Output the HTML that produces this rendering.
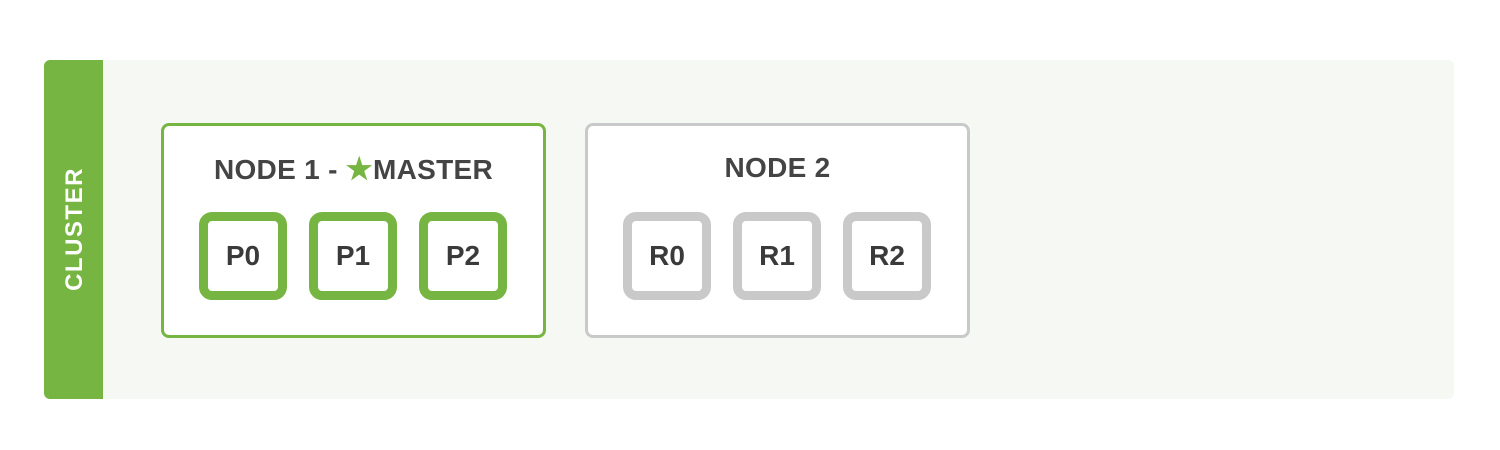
<!DOCTYPE html>
<html><head><meta charset="utf-8"><style>
*{margin:0;padding:0;box-sizing:border-box}
body{width:1500px;height:450px;background:#fff;position:relative;overflow:hidden;font-family:"Liberation Sans",sans-serif}
.bg{position:absolute;left:44px;top:60px;width:1410px;height:339px;background:#f6f8f4;border-radius:6px}
.bar{position:absolute;left:44px;top:60px;width:59px;height:339px;background:#77b543;border-radius:6px 0 0 6px}
.ct{position:absolute;left:75px;top:229px;transform:translate(-50%,-50%) rotate(-90deg);color:#fff;font-weight:bold;font-size:24px;letter-spacing:1.5px;white-space:nowrap}
.node{position:absolute;top:123px;width:385px;height:215px;background:#fff;border:3px solid #77b543;border-radius:8px}
.n2{border-color:#c9c9c9}
.title{position:absolute;top:152px;width:385px;text-align:center;font-weight:bold;font-size:28px;letter-spacing:0.3px;color:#444;white-space:nowrap}
.sh{position:absolute;top:212px;width:88px;height:88px;border:9px solid #77b543;border-radius:13px;background:#fff;display:flex;align-items:center;justify-content:center;font-weight:bold;font-size:28px;color:#3a3a3a}
.g{border-color:#c9c9c9}
.star{color:#77b543;font-size:30px}
</style></head><body>
<div class="bg"></div>
<div class="bar"></div>
<div class="ct">CLUSTER</div>
<div class="node" style="left:161px"></div>
<div class="node n2" style="left:585px"></div>
<div class="title" style="left:161px">NODE 1 - <span class="star">★</span>MASTER</div>
<div class="title" style="left:585px">NODE 2</div>
<div class="sh" style="left:199px">P0</div>
<div class="sh" style="left:309px">P1</div>
<div class="sh" style="left:419px">P2</div>
<div class="sh g" style="left:623px">R0</div>
<div class="sh g" style="left:733px">R1</div>
<div class="sh g" style="left:843px">R2</div>
</body></html>
